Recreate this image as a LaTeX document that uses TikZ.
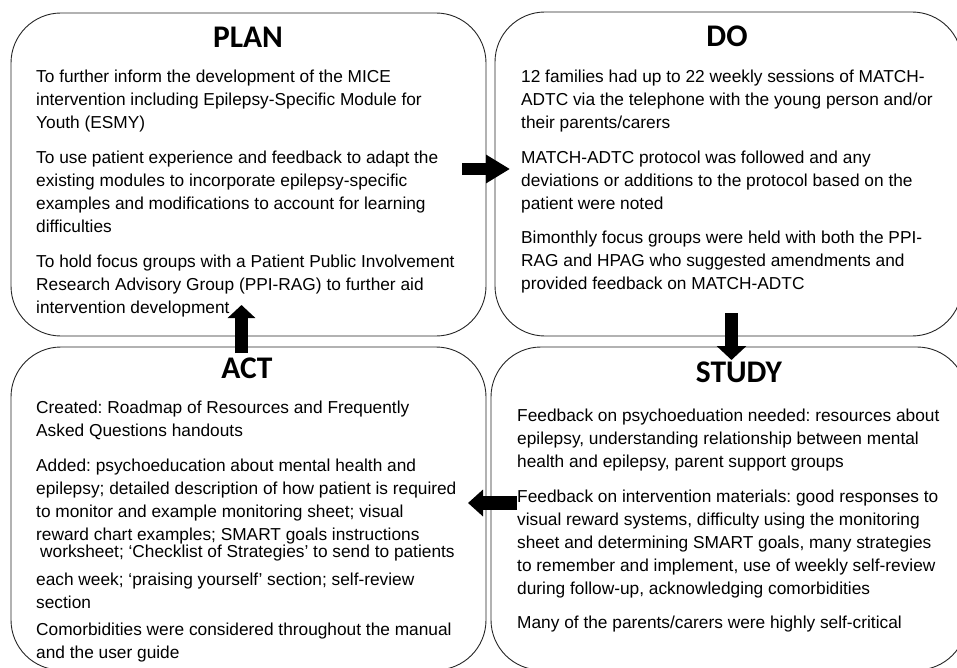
\documentclass[tikz,border=0pt]{standalone}
\usepackage{fontspec}
\setmainfont{Liberation Sans}
\newfontfamily\headfont{Carlito}
\usetikzlibrary{arrows.meta}
\frenchspacing

\tikzset{
  box/.style={draw=black!85, line width=0.9pt, rounded corners=50pt, inner sep=0pt, outer sep=0pt},
  phase/.style={font=\headfont\bfseries\fontsize{31.5}{36}\selectfont, anchor=base, inner sep=0pt},
  body/.style={font=\fontsize{17.3}{23}\selectfont, align=left, anchor=north west, inner sep=0pt},
}

\begin{document}
\begin{tikzpicture}[x=1pt,y=1pt]
\useasboundingbox (0,0) rectangle (957,-668);
\fill[white] (0,0) rectangle (957,-668);
\clip (0,0) rectangle (957,-668);

% boxes
\node[box, minimum width=475pt, minimum height=323pt] (plan)  at (248.5,-174.5) {};
\node[box, minimum width=467pt, minimum height=324pt] (do)    at (728.5,-174) {};
\node[box, minimum width=475pt, minimum height=323pt] (act)   at (248.5,-508.5) {};
\node[box, minimum width=476pt, minimum height=323pt] (study) at (729,-508.5) {};

% headings
\node[phase] (planhead)  at (248,-48)  {PLAN};
\node[phase] (dohead)    at (727,-47)  {DO};
\node[phase] (acthead)   at (247,-378) {ACT};
\node[phase] (studyhead) at (739,-382) {STUDY};

% box texts
\node[body] (plantext) at (36,-69.5) {To further inform the development of the MICE\\
  intervention including Epilepsy-Specific Module for\\
  Youth (ESMY)\\[12pt]
  To use patient experience and feedback to adapt the\\
  existing modules to incorporate epilepsy-specific\\
  examples and modifications to account for learning\\
  difficulties\\[12pt]
  To hold focus groups with a Patient Public Involvement\\
  Research Advisory Group (PPI-RAG) to further aid\\
  intervention development};

\node[body] (dotext) at (521,-69.5) {12 families had up to 22 weekly sessions of MATCH-\\
  ADTC via the telephone with the young person and/or\\
  their parents/carers\\[12pt]
  MATCH-ADTC protocol was followed and any\\
  deviations or additions to the protocol based on the\\
  patient were noted\\[11pt]
  Bimonthly focus groups were held with both the PPI-\\
  RAG and HPAG who suggested amendments and\\
  provided feedback on MATCH-ADTC};

\node[body] (acttext) at (36,-400.5) {Created: Roadmap of Resources and Frequently\\
  Asked Questions handouts\\[12pt]
  Added: psychoeducation about mental health and\\
  epilepsy; detailed description of how patient is required\\
  to monitor and example monitoring sheet; visual\\
  reward chart examples; SMART goals instructions\\[-6pt]
  \hspace*{4pt}worksheet; ‘Checklist of Strategies’ to send to patients\\[5pt]
  each week; ‘praising yourself’ section; self-review\\
  section\\[4pt]
  Comorbidities were considered throughout the manual\\
  and the user guide};

\node[body] (studytext) at (517,-408.5) {Feedback on psychoeduation needed: resources about\\
  epilepsy, understanding relationship between mental\\
  health and epilepsy, parent support groups\\[12pt]
  Feedback on intervention materials: good responses to\\
  visual reward systems, difficulty using the monitoring\\
  sheet and determining SMART goals, many strategies\\
  to remember and implement, use of weekly self-review\\
  during follow-up, acknowledging comorbidities\\[11pt]
  Many of the parents/carers were highly self-critical};

% cycle arrows
\coordinate (p2d) at (462,-169);   \coordinate (d2p) at (510,-169);
\coordinate (d2s) at (731.5,-313); \coordinate (s2d) at (731.5,-360);
\coordinate (s2a) at (517,-503);   \coordinate (a2s) at (468,-503);
\coordinate (a2p) at (241.5,-353); \coordinate (p2a) at (241.5,-305);
\draw[line width=12pt, -{Triangle[width=27pt,length=24pt]}] (p2d) -- (d2p);
\draw[line width=13pt, -{Triangle[width=29pt,length=14pt]}] (d2s) -- (s2d);
\draw[line width=14pt, -{Triangle[width=26pt,length=15pt]}] (s2a) -- (a2s);
\draw[line width=13pt, -{Triangle[width=27pt,length=13pt]}] (a2p) -- (p2a);
\end{tikzpicture}
\end{document}
